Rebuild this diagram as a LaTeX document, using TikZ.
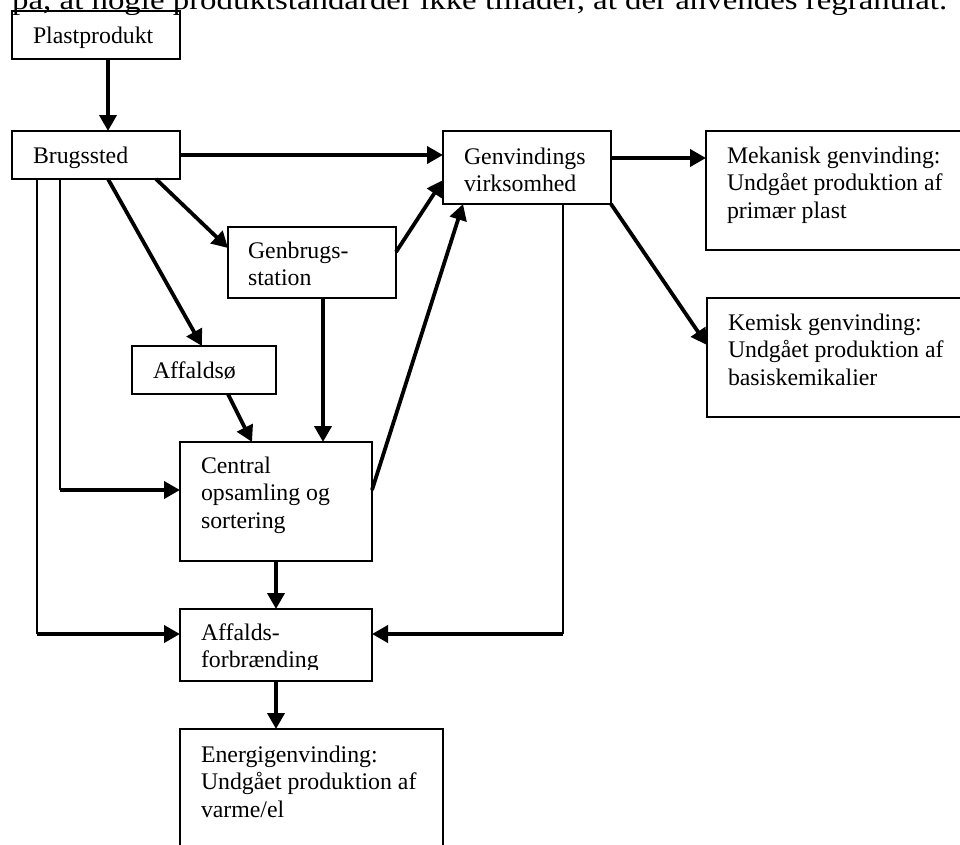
\documentclass[tikz,border=0pt]{standalone}
\usepackage{fontspec}
\usepackage{graphicx}
\setmainfont{Liberation Serif}
\usetikzlibrary{arrows.meta,calc}
\tikzset{
  box/.style={draw, line width=1.6pt, inner sep=0pt, outer sep=0pt, anchor=north west},
  lbl/.style={anchor=base west, inner sep=0pt, outer sep=0pt, font=\fontsize{23.8}{27.5}\selectfont},
  arr/.style={line width=3.8pt, -{Triangle[length=16pt,width=17pt]}},
  thinline/.style={line width=1.6pt}
}
\newcommand{\boxtext}[1]{\parbox[t]{320pt}{\raggedright #1}}
\begin{document}
\begin{tikzpicture}[x=1pt,y=-1pt]
\useasboundingbox (0,0) rectangle (960,844);
\clip (0,0) rectangle (960,844);
% intro text (cut off at top)
\node[anchor=base west, inner sep=0pt] (intro) at (12,9)
  {\resizebox{935pt}{\height}{\fontsize{28}{30}\selectfont på, at nogle produktstandarder ikke tillader, at der anvendes regranulat.}};
% boxes
\node[box, minimum width=168pt, minimum height=48pt] (plast) at (12,11) {};
\node[box, minimum width=168pt, minimum height=48pt] (brug) at (12,131) {};
\node[box, minimum width=168pt, minimum height=73pt] (genv) at (443,131) {};
\node[box, minimum width=270pt, minimum height=119pt] (mek) at (706,131) {};
\node[box, minimum width=168pt, minimum height=71pt] (genb) at (228,227) {};
\node[box, minimum width=270pt, minimum height=119pt] (kem) at (707,298) {};
\node[box, minimum width=144pt, minimum height=48pt] (aff) at (132,346) {};
\node[box, minimum width=192pt, minimum height=119pt] (cent) at (180,442) {};
\node[box, minimum width=192pt, minimum height=72pt] (forb) at (180,609) {};
\node[box, minimum width=263pt, minimum height=150pt] (energi) at (180,729) {};
% texts
\node[lbl] (tplast) at ([xshift=21pt,yshift=-32pt]plast.north west) {\boxtext{Plastprodukt}};
\node[lbl] (tbrug) at ([xshift=21pt,yshift=-32pt]brug.north west) {\boxtext{Brugssted}};
\node[lbl] (tgenv) at ([xshift=21pt,yshift=-33pt]genv.north west) {\boxtext{Genvindings\\virksomhed}};
\node[lbl] (tmek) at ([xshift=21pt,yshift=-32pt]mek.north west) {\boxtext{Mekanisk genvinding:\\Undgået produktion af\\primær plast}};
\node[lbl] (tgenb) at ([xshift=20pt,yshift=-31pt]genb.north west) {\boxtext{Genbrugs-\\station}};
\node[lbl] (tkem) at ([xshift=21pt,yshift=-32pt]kem.north west) {\boxtext{Kemisk genvinding:\\Undgået produktion af\\basiskemikalier}};
\node[lbl] (taff) at ([xshift=21pt,yshift=-32pt]aff.north west) {\boxtext{Affaldsø}};
\node[lbl] (tcent) at ([xshift=21pt,yshift=-31pt]cent.north west) {\boxtext{Central\\opsamling og\\sortering}};
\begin{scope}
  \clip ([xshift=1pt,yshift=-1pt]forb.north west) rectangle ([xshift=-1pt,yshift=12pt]forb.south east);
  \node[lbl] (tforb) at ([xshift=21pt,yshift=-31pt]forb.north west) {\boxtext{Affalds-\\forbrænding}};
\end{scope}
\node[lbl] (tenergi) at ([xshift=21pt,yshift=-33pt]energi.north west) {\boxtext{Energigenvinding:\\Undgået produktion af\\varme/el}};
% connectors
\draw[arr] ([xshift=96pt]plast.south west) -- ([xshift=96pt]brug.north west);
\draw[arr] ([yshift=-24pt]brug.north east) -- ([yshift=-24pt]genv.north west);
\draw[arr] ([xshift=144pt]brug.south west) -- ([yshift=-21pt]genb.north west);
\draw[arr] ([xshift=96pt]brug.south west) -- ([xshift=70pt]aff.north west);
\coordinate (b5) at ([xshift=48pt]brug.south west);
\coordinate (c5) at ([yshift=-48pt]cent.north west);
\coordinate (k5) at (b5 |- c5);
\draw[thinline] (b5) -- (k5);
\draw[arr] (k5) -- (c5);
\coordinate (b6) at ([xshift=25pt]brug.south west);
\coordinate (c6) at ([yshift=-25pt]forb.north west);
\coordinate (k6) at (b6 |- c6);
\draw[thinline] (b6) -- (k6);
\draw[arr] (k6) -- (c6);
\draw[arr] ([yshift=-25pt]genb.north east) -- ([yshift=-49pt]genv.north west);
\draw[arr] ([xshift=95pt]genb.south west) -- ([xshift=143pt]cent.north west);
\draw[arr] ([xshift=96pt]aff.south west) -- ([xshift=72pt]cent.north west);
\draw[arr] ([yshift=-48pt]cent.north east) -- ([xshift=20pt]genv.south west);
\draw[arr] (cent.south) -- (forb.north);
\coordinate (b12) at ([xshift=120pt]genv.south west);
\coordinate (c12) at ([yshift=-25pt]forb.north east);
\coordinate (k12) at (b12 |- c12);
\draw[thinline] (b12) -- (k12);
\draw[arr] (k12) -- (c12);
\draw[arr] ([yshift=-27pt]genv.north east) -- ([yshift=-27pt]mek.north west);
\draw[arr] (genv.south east) -- ([yshift=-47pt]kem.north west);
\draw[arr] (forb.south) -- ([xshift=96pt]energi.north west);
\end{tikzpicture}
\end{document}
